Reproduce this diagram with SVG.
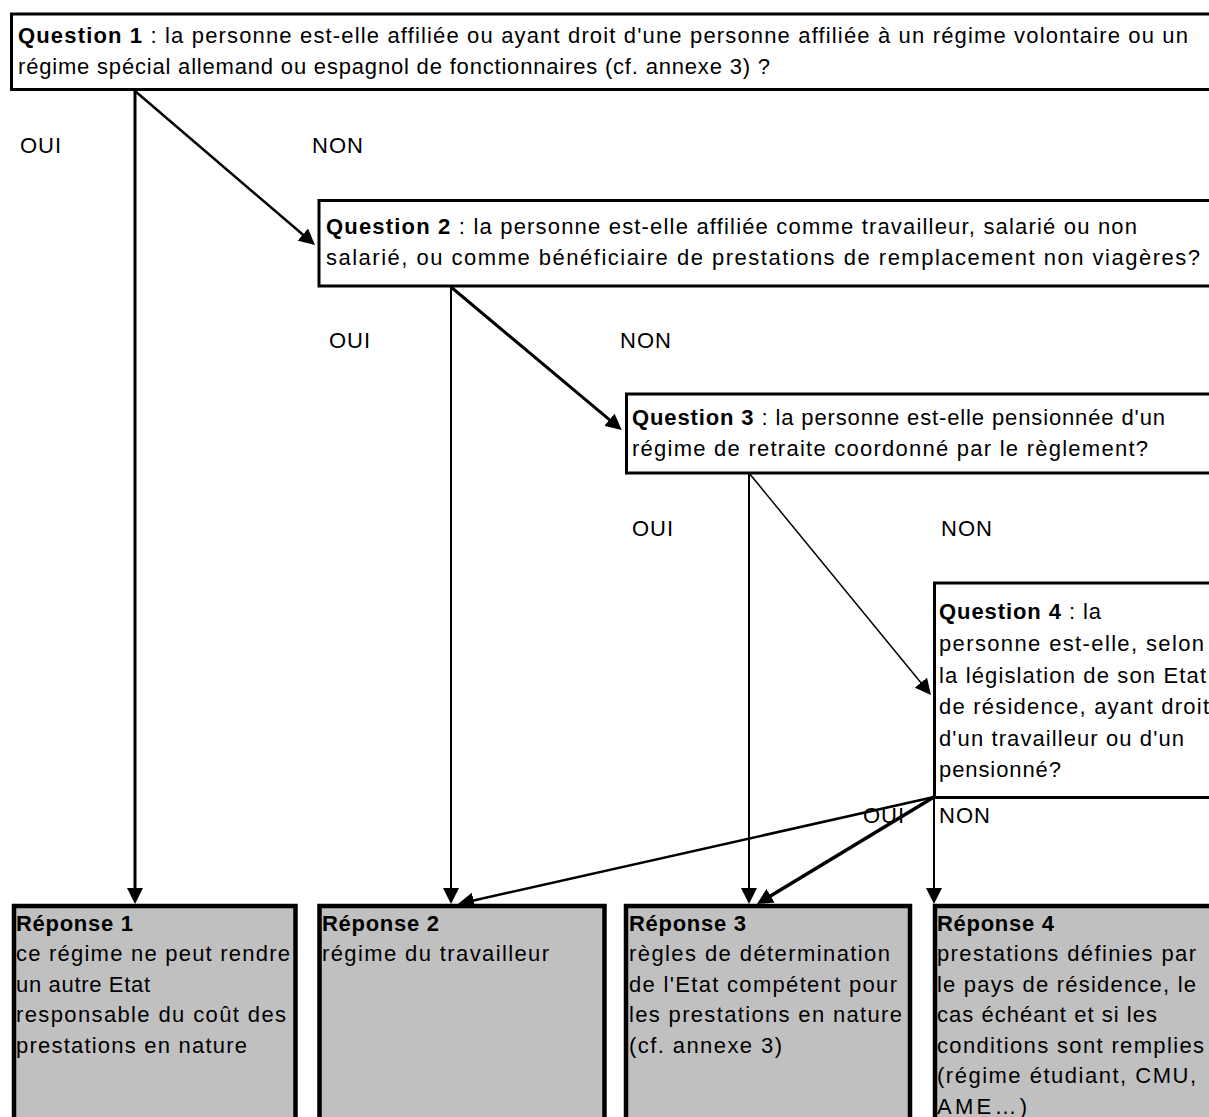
<svg xmlns="http://www.w3.org/2000/svg" width="1209" height="1117" viewBox="0 0 1209 1117">
<style>
  text { font-family: "Liberation Sans", Arial, sans-serif; font-size: 22px; fill: #000; }
  .b { font-weight: bold; }
  .l { letter-spacing: 1px; }
  .q { fill: #fff; stroke: #000; stroke-width: 3; }
  .r { fill: #c0c0c0; stroke: #000; stroke-width: 4.5; }
  .c { stroke: #000; fill: none; marker-end: url(#ah); }
</style>
<defs>
  <marker id="ah" markerUnits="userSpaceOnUse" markerWidth="16" markerHeight="16" refX="8" refY="8" orient="auto" viewBox="0 0 16 16">
    <path d="M0,0 L16,8 L0,16 z" fill="#000"/>
  </marker>
</defs>
<rect width="1209" height="1117" fill="#fff"/>

<g id="q1">
  <rect class="q" x="11.5" y="14" width="1210" height="75.5"/>
  <text x="18" y="43" textLength="1170" lengthAdjust="spacing"><tspan class="b">Question 1</tspan> : la personne est-elle affiliée ou ayant droit d'une personne affiliée à un régime volontaire ou un</text>
  <text x="18" y="73.5" textLength="752" lengthAdjust="spacing">régime spécial allemand ou espagnol de fonctionnaires (cf. annexe 3) ?</text>
</g>

<g id="q2">
  <rect class="q" x="319" y="200.5" width="900" height="85.5"/>
  <text x="326" y="234" textLength="811" lengthAdjust="spacing"><tspan class="b">Question 2</tspan> : la personne est-elle affiliée comme travailleur, salarié ou non</text>
  <text x="326" y="264.5" textLength="874" lengthAdjust="spacing">salarié, ou comme bénéficiaire de prestations de remplacement non viagères?</text>
</g>

<g id="q3">
  <rect class="q" x="626.5" y="394" width="600" height="79"/>
  <text x="632" y="425" textLength="533" lengthAdjust="spacing"><tspan class="b">Question 3</tspan> : la personne est-elle pensionnée d'un</text>
  <text x="632" y="456" textLength="516" lengthAdjust="spacing">régime de retraite coordonné par le règlement?</text>
</g>

<g id="q4">
  <rect class="q" x="934.5" y="583" width="300" height="214.5"/>
  <text x="939" y="619" textLength="162" lengthAdjust="spacing"><tspan class="b">Question 4</tspan> : la</text>
  <text x="939" y="651" textLength="265" lengthAdjust="spacing">personne est-elle, selon</text>
  <text x="939" y="682.5" textLength="267" lengthAdjust="spacing">la législation de son Etat</text>
  <text x="939" y="714" textLength="270" lengthAdjust="spacing">de résidence, ayant droit</text>
  <text x="939" y="745.5" textLength="245" lengthAdjust="spacing">d'un travailleur ou d'un</text>
  <text x="939" y="777" textLength="122" lengthAdjust="spacing">pensionné?</text>
</g>

<g id="r1">
  <rect class="r" x="14" y="906" width="281.5" height="240"/>
  <text x="16" y="930.5" class="b" textLength="117" lengthAdjust="spacing">Réponse 1</text>
  <text x="16" y="961" textLength="274" lengthAdjust="spacing">ce régime ne peut rendre</text>
  <text x="16" y="991.5" textLength="134" lengthAdjust="spacing">un autre Etat</text>
  <text x="16" y="1022" textLength="270" lengthAdjust="spacing">responsable du coût des</text>
  <text x="16" y="1052.5" textLength="231" lengthAdjust="spacing">prestations en nature</text>
</g>

<g id="r2">
  <rect class="r" x="319.5" y="906" width="285" height="240"/>
  <text x="322" y="930.5" class="b" textLength="117" lengthAdjust="spacing">Réponse 2</text>
  <text x="322" y="961" textLength="227" lengthAdjust="spacing">régime du travailleur</text>
</g>

<g id="r3">
  <rect class="r" x="626" y="906" width="284" height="240"/>
  <text x="629" y="930.5" class="b" textLength="117" lengthAdjust="spacing">Réponse 3</text>
  <text x="629" y="961" textLength="261" lengthAdjust="spacing">règles de détermination</text>
  <text x="629" y="991.5" textLength="268" lengthAdjust="spacing">de l'Etat compétent pour</text>
  <text x="629" y="1022" textLength="273" lengthAdjust="spacing">les prestations en nature</text>
  <text x="629" y="1052.5" textLength="153" lengthAdjust="spacing">(cf. annexe 3)</text>
</g>

<g id="r4">
  <rect class="r" x="935" y="906" width="290" height="240"/>
  <text x="937" y="930.5" class="b" textLength="117" lengthAdjust="spacing">Réponse 4</text>
  <text x="937" y="961" textLength="259" lengthAdjust="spacing">prestations définies par</text>
  <text x="937" y="991.5" textLength="259" lengthAdjust="spacing">le pays de résidence, le</text>
  <text x="937" y="1022" textLength="220" lengthAdjust="spacing">cas échéant et si les</text>
  <text x="937" y="1052.5" textLength="267" lengthAdjust="spacing">conditions sont remplies</text>
  <text x="937" y="1083" textLength="259" lengthAdjust="spacing">(régime étudiant, CMU,</text>
  <text x="937" y="1113.5" textLength="90" lengthAdjust="spacing">AME…)</text>
</g>

<g id="labels">
  <text class="l" x="20" y="153">OUI</text>
  <text class="l" x="312" y="153">NON</text>
  <text class="l" x="329" y="348">OUI</text>
  <text class="l" x="620" y="348">NON</text>
  <text class="l" x="632" y="536">OUI</text>
  <text class="l" x="941" y="536">NON</text>
  <text class="l" x="863" y="823">OUI</text>
  <text class="l" x="939" y="823">NON</text>
</g>

<g id="connectors">
  <line class="c" x1="135" y1="90" x2="135" y2="896" stroke-width="3"/>
  <line class="c" x1="135" y1="91" x2="308.9" y2="239.8" stroke-width="2.5"/>
  <line class="c" x1="451" y1="286" x2="451" y2="896" stroke-width="2"/>
  <line class="c" x1="451" y1="287" x2="615.6" y2="424.9" stroke-width="3"/>
  <line class="c" x1="749" y1="473" x2="749" y2="896" stroke-width="2"/>
  <line class="c" x1="749" y1="473" x2="925.9" y2="688.8" stroke-width="1.5"/>
  <line class="c" x1="934" y1="797" x2="465.8" y2="902.2" stroke-width="2.5"/>
  <line class="c" x1="934" y1="797" x2="763.8" y2="899.9" stroke-width="3.5"/>
  <line class="c" x1="934" y1="797" x2="934" y2="896" stroke-width="2"/>
</g>
</svg>
